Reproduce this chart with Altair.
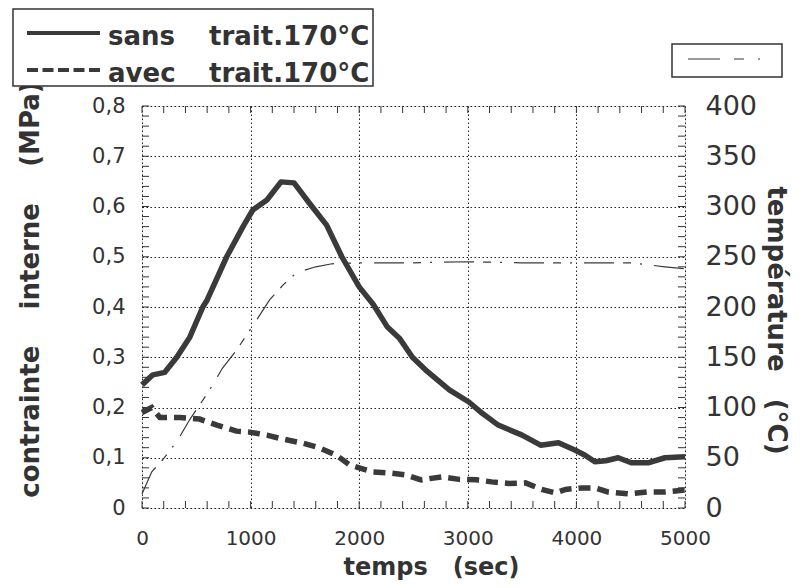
import altair as alt
import pandas as pd

# ---- data ----
sans_t = [0, 100, 210, 320, 440, 560, 600, 780, 930, 1020, 1150, 1280, 1400, 1540, 1700, 1840,
          2000, 2130, 2260, 2370, 2490, 2610, 2720, 2830, 3010, 3130, 3280, 3500, 3670, 3835,
          3990, 4080, 4170, 4270, 4385, 4505, 4660, 4815, 5000]
sans_v = [0.245, 0.265, 0.27, 0.30, 0.34, 0.40, 0.414, 0.50, 0.56, 0.593, 0.613, 0.649, 0.647,
          0.607, 0.563, 0.50, 0.44, 0.405, 0.36, 0.338, 0.30, 0.275, 0.255, 0.235, 0.211, 0.189,
          0.165, 0.145, 0.125, 0.13, 0.115, 0.105, 0.092, 0.094, 0.10, 0.09, 0.09, 0.10, 0.102]

avec_t = [0, 90, 165, 350, 530, 690, 870, 990, 1150, 1300, 1480, 1630, 1790, 1910, 2000, 2120,
          2270, 2430, 2570, 2760, 2920, 3080, 3220, 3380, 3530, 3680, 3810, 3900, 4050, 4170,
          4290, 4480, 4660, 4815, 5000]
avec_v = [0.19, 0.20, 0.18, 0.18, 0.177, 0.165, 0.153, 0.151, 0.145, 0.137, 0.129, 0.12, 0.105,
          0.086, 0.08, 0.072, 0.07, 0.066, 0.056, 0.062, 0.057, 0.056, 0.052, 0.049, 0.05, 0.037,
          0.03, 0.037, 0.04, 0.04, 0.032, 0.028, 0.032, 0.032, 0.036]

temp_t = [0, 90, 190, 320, 440, 620, 740, 870, 1055, 1175, 1300, 1420, 1600, 1750, 2000, 2500,
          3000, 3500, 4000, 4500, 4815, 5000]
temp_v = [14, 36, 48, 66, 88, 117, 139, 157, 187, 207, 222, 234, 240, 243, 244, 244, 245, 244,
          244, 244, 240, 238]

x_major = [0, 1000, 2000, 3000, 4000, 5000]
y_left_major = [0, 0.1, 0.2, 0.3, 0.4, 0.5, 0.6, 0.7, 0.8]
y_right_major = [0, 50, 100, 150, 200, 250, 300, 350, 400]
x_minor = list(range(0, 5001, 200))
y_minor = [round(i * 0.02, 2) for i in range(0, 41)]

legend_labels = ["sans", "avec"]
legend_suffix = "trait.170°C"

df_sans = pd.DataFrame({"t": sans_t, "v": sans_v})
df_avec = pd.DataFrame({"t": avec_t, "v": avec_v})
df_temp = pd.DataFrame({"t": temp_t, "T": temp_v})
df_xt = pd.DataFrame({"t": x_minor})
df_yt = pd.DataFrame({"v": y_minor})
one = pd.DataFrame({"k": [0]})

INK = "#333333"
LINE = "#3a3a3a"
W, H = 543, 402
FONT = "DejaVu Sans"

xscale = alt.Scale(domain=[0, 5000], nice=False, zero=False)
yscale = alt.Scale(domain=[0, 0.8], nice=False)
tscale = alt.Scale(domain=[0, 400], nice=False)

xaxis = alt.Axis(values=x_major, format="d", grid=True, gridDash=[1.5, 2.5], gridColor="#222",
                 gridWidth=1, ticks=False, tickSize=0, domain=False, labelFont=FONT,
                 labelFontSize=20, labelColor=INK, labelPadding=20, labelFlush=False,
                 title="temps\u00a0\u00a0\u00a0(sec)", titleFont=FONT, titleFontSize=24,
                 titleFontWeight="bold", titleColor=INK, titleX=289, titleY=66,
                 titleBaseline="alphabetic", titleAlign="center")

yaxis = alt.Axis(values=y_left_major, grid=True, gridDash=[1.5, 2.5], gridColor="#222",
                 gridWidth=1, ticks=False, tickSize=0, domain=False, labelFont=FONT,
                 labelFontSize=21, labelColor=INK, labelPadding=17, labelFlush=False,
                 labelExpr="datum.value == 0 ? '0' : replace(format(datum.value, '.1f'), '.', ',')",
                 title="contrainte\u00a0\u00a0\u00a0\u00a0interne\u00a0\u00a0\u00a0\u00a0(MPa)",
                 titleFont=FONT, titleFontSize=26, titleFontWeight="bold", titleColor=INK,
                 titleAngle=270, titleX=-112, titleY=183, titleBaseline="middle",
                 titleAlign="center")

taxis = alt.Axis(values=y_right_major, format="d", orient="right", grid=False, ticks=False,
                 tickSize=0, domain=False, labelFont=FONT, labelFontSize=27, labelColor=INK,
                 labelPadding=20, labelFlush=False, title="température\u00a0\u00a0\u00a0(°C)",
                 titleFont=FONT, titleFontSize=26, titleFontWeight="bold", titleColor=INK,
                 titleAngle=90, titleX=90, titleY=214, titleBaseline="middle",
                 titleAlign="center")

X = alt.X("t:Q", scale=xscale, axis=xaxis)

sans = alt.Chart(df_sans).mark_line(color=LINE, strokeWidth=5.5, strokeJoin="round").encode(
    x=X, y=alt.Y("v:Q", scale=yscale, axis=yaxis))
avec = alt.Chart(df_avec).mark_line(color=LINE, strokeWidth=5.5, strokeDash=[12, 7]).encode(
    x=X, y=alt.Y("v:Q", scale=yscale, axis=yaxis))

tick_bottom = alt.Chart(df_xt).mark_rule(color=INK, strokeWidth=1).encode(
    x=X, y=alt.value(H), y2=alt.value(H - 7))
tick_top = alt.Chart(df_xt).mark_rule(color=INK, strokeWidth=1).encode(
    x=X, y=alt.value(0), y2=alt.value(7))
tick_left = alt.Chart(df_yt).mark_rule(color=INK, strokeWidth=1).encode(
    y=alt.Y("v:Q", scale=yscale, axis=yaxis), x=alt.value(0), x2=alt.value(7))
tick_right = alt.Chart(df_yt).mark_rule(color=INK, strokeWidth=1).encode(
    y=alt.Y("v:Q", scale=yscale, axis=yaxis), x=alt.value(W), x2=alt.value(W - 7))

# legend (top-left)
box1 = alt.Chart(one).mark_rect(fill="white", stroke=INK, strokeWidth=1.5).encode(
    x=alt.value(-129), x2=alt.value(231), y=alt.value(-97), y2=alt.value(-20))
leg_solid = alt.Chart(one).mark_rule(color=LINE, strokeWidth=4).encode(
    x=alt.value(-115), x2=alt.value(-42), y=alt.value(-73))
leg_dash = alt.Chart(one).mark_rule(color=LINE, strokeWidth=4, strokeDash=[11, 4.5]).encode(
    x=alt.value(-115), x2=alt.value(-42), y=alt.value(-36))
txt_kw = dict(font=FONT, fontSize=26, fontWeight="bold", color=INK, align="left",
              baseline="alphabetic")
t1 = alt.Chart(one).mark_text(text=legend_labels[0], **txt_kw).encode(
    x=alt.value(-34), y=alt.value(-61))
t2 = alt.Chart(one).mark_text(text=legend_suffix, **txt_kw).encode(
    x=alt.value(67), y=alt.value(-61))
t3 = alt.Chart(one).mark_text(text=legend_labels[1], **txt_kw).encode(
    x=alt.value(-34), y=alt.value(-24))
t4 = alt.Chart(one).mark_text(text=legend_suffix, **txt_kw).encode(
    x=alt.value(67), y=alt.value(-24))

# legend (top-right) for temperature
box2 = alt.Chart(one).mark_rect(fill="white", stroke=INK, strokeWidth=1.5).encode(
    x=alt.value(530), x2=alt.value(640), y=alt.value(-62), y2=alt.value(-29))
leg_temp = alt.Chart(one).mark_rule(color=LINE, strokeWidth=1.2,
                                    strokeDash=[32, 14, 10, 14, 2, 40]).encode(
    x=alt.value(546), x2=alt.value(620), y=alt.value(-47))

left_group = alt.layer(tick_bottom, tick_top, tick_left, tick_right, avec, sans,
                       box1, leg_solid, leg_dash, t1, t2, t3, t4, box2, leg_temp)

temp = alt.Chart(df_temp).mark_line(color=LINE, strokeWidth=1.2,
                                    strokeDash=[30, 9, 8, 9, 2, 12]).encode(
    x=X, y=alt.Y("T:Q", scale=tscale, axis=taxis))

chart = alt.layer(left_group, temp).resolve_scale(y="independent").properties(
    width=W, height=H,
    padding={"left": 134, "top": 98, "right": 107, "bottom": 72},
    autosize=alt.AutoSizeParams(type="none"),
).configure_view(stroke=INK, strokeWidth=1.5).configure(background="white")

chart.save("out.html", embed_options={"renderer": "svg", "actions": False})
